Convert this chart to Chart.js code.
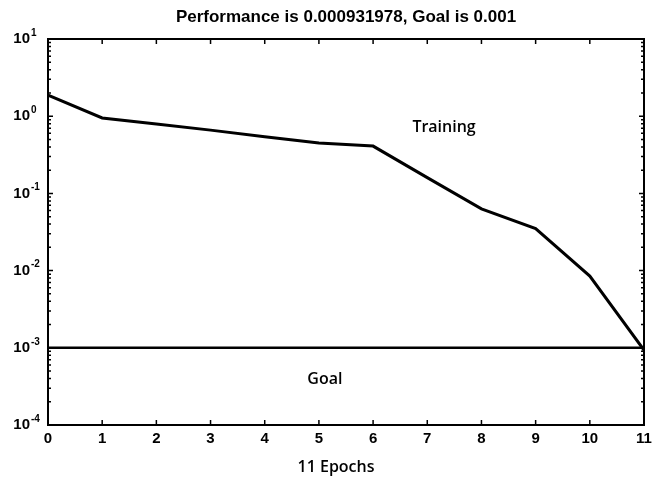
<!DOCTYPE html>
<html>
<head>
<meta charset="utf-8">
<script src="https://cdn.jsdelivr.net/npm/chart.js@4"></script>
<style>
  html, body { margin: 0; padding: 0; background: #fff; }
  #wrap { width: 661px; height: 477px; }
</style>
</head>
<body>
<div id="wrap"><canvas id="perfChart"></canvas></div>
<script>
const epochs = [0, 1, 2, 3, 4, 5, 6, 7, 8, 9, 10, 11];
const performance = [1.88, 0.95, 0.79, 0.66, 0.54, 0.45, 0.41, 0.16, 0.063, 0.035, 0.0085, 0.000931978];
const goal = 0.001;
const goalEpochs = [0, 11];
const yTicks = [1e-4, 1e-3, 1e-2, 1e-1, 1e0, 1e1];
const yTickExponents = ["-4", "-3", "-2", "-1", "0", "1"];
const titleText = "Performance is 0.000931978, Goal is 0.001";
const xLabel = "11 Epochs";

const trainingData = {
    label: "Training",
    data: epochs.map((e, i) => ({ x: e, y: performance[i] })),
    borderColor: "#000",
    borderWidth: 3,
    pointRadius: 0,
    tension: 0,
};
const goalData = {
    label: "Goal",
    data: goalEpochs.map(e => ({ x: e, y: goal })),
    borderColor: "#000",
    borderWidth: 2.5,
    pointRadius: 0,
};

// box, inward ticks, y labels with exponents and the loose text labels
const decorations = {
    id: "decorations",
    afterDatasetsDraw(chart) {
        const ctx = chart.ctx;
        const a = chart.chartArea;
        const xs = chart.scales.x;
        const ys = chart.scales.y;
        ctx.save();
        ctx.strokeStyle = "#000";
        ctx.lineWidth = 1.5;
        epochs.forEach(e => {
            const px = xs.getPixelForValue(e);
            ctx.beginPath();
            ctx.moveTo(px, a.bottom); ctx.lineTo(px, a.bottom - 5);
            ctx.moveTo(px, a.top); ctx.lineTo(px, a.top + 5);
            ctx.stroke();
        });
        for (let k = -4; k < 1; k++) {
            for (let m = 1; m < 10; m++) {
                const py = ys.getPixelForValue(m * Math.pow(10, k));
                const len = m === 1 ? 5 : 3;
                ctx.beginPath();
                ctx.moveTo(a.left, py); ctx.lineTo(a.left + len, py);
                ctx.moveTo(a.right, py); ctx.lineTo(a.right - len, py);
                ctx.stroke();
            }
        }
        ctx.lineWidth = 2;
        ctx.strokeRect(a.left, a.top, a.right - a.left, a.bottom - a.top);

        ctx.fillStyle = "#000";
        ctx.textBaseline = "middle";
        yTicks.forEach((t, i) => {
            const py = ys.getPixelForValue(t);
            ctx.textAlign = "right";
            ctx.font = "bold 15px 'Liberation Sans', Arial, sans-serif";
            ctx.fillText("10", 30, py);
            ctx.textAlign = "left";
            ctx.font = "bold 10px 'Liberation Sans', Arial, sans-serif";
            ctx.fillText(yTickExponents[i], 31, py - 6);
        });

        ctx.textAlign = "center";
        ctx.font = "bold 17px 'Liberation Sans', Arial, sans-serif";
        ctx.fillText(titleText, (a.left + a.right) / 2, 17);
        ctx.font = "600 16px 'Open Sans', sans-serif";
        ctx.fillText("Training", xs.getPixelForValue(7.31), ys.getPixelForValue(0.72));
        ctx.fillText("Goal", xs.getPixelForValue(5.11), ys.getPixelForValue(0.00039));
        ctx.fillText(xLabel, (a.left + a.right) / 2 - 10, 467);
        ctx.restore();
    },
};

const config = {
    type: "line",
    data: { datasets: [trainingData, goalData] },
    options: {
        responsive: true,
        maintainAspectRatio: false,
        animation: false,
        layout: { padding: { top: 39, right: 17, left: 0, bottom: 0 } },
        scales: {
            x: {
                type: "linear",
                min: 0,
                max: 11,
                afterFit(scale) { scale.height = 52; },
                afterBuildTicks(scale) { scale.ticks = epochs.map(v => ({ value: v })); },
                grid: { display: false, drawTicks: false },
                border: { display: false },
                ticks: {
                    color: "#000",
                    padding: 5,
                    font: { family: "'Liberation Sans', Arial, sans-serif", size: 15, weight: "bold" },
                },
            },
            y: {
                type: "logarithmic",
                min: 1e-4,
                max: 10,
                afterFit(scale) { scale.width = 48; },
                afterBuildTicks(scale) { scale.ticks = yTicks.map(v => ({ value: v })); },
                grid: { display: false, drawTicks: false },
                border: { display: false },
                ticks: { display: false },
            },
        },
        plugins: {
            legend: { display: false },
            tooltip: { enabled: false },
        },
    },
    plugins: [decorations],
};

var perfChart = new Chart(document.getElementById("perfChart"), config);
</script>
</body>
</html>
